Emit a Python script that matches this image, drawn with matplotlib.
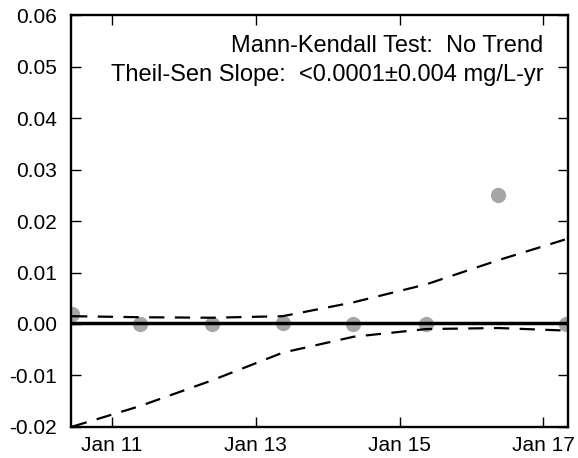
import matplotlib
matplotlib.use("Agg")
import matplotlib.pyplot as plt
import matplotlib.dates as mdates
import matplotlib.ticker as mticker
import numpy as np
import datetime as dt

plt.rcParams['font.family'] = ['Liberation Sans', 'DejaVu Sans']
plt.rcParams['axes.unicode_minus'] = False
plt.rcParams['lines.scale_dashes'] = False

# Data
sample_dates = ["2010-06-12", "2011-05-22", "2012-05-22", "2013-05-17",
                "2014-05-12", "2015-05-17", "2016-05-17", "2017-04-28"]
concentration = [0.0020, 0.0000, 0.0000, 0.0002, 0.0000, 0.0000, 0.0250, 0.0000]
trend_value = [0.0001, 0.0001]
upper_band = [0.0015, 0.0013, 0.0012, 0.0015, 0.0042, 0.0077, 0.0124, 0.0165]
lower_band = [-0.0200, -0.0160, -0.0110, -0.0056, -0.0025, -0.0010, -0.0008, -0.0013]
xlim_dates = ["2010-06-05", "2017-05-06"]
xtick_dates = ["2011-01-01", "2013-01-01", "2015-01-01", "2017-01-01"]
ylim = (-0.02, 0.06)
yticks = [-0.02, -0.01, 0.00, 0.01, 0.02, 0.03, 0.04, 0.05, 0.06]
annot_lines = ["Mann-Kendall Test:  No Trend",
               "Theil-Sen Slope:  <0.0001\u00b10.004 mg/L-yr"]

dates = [dt.datetime.strptime(d, "%Y-%m-%d") for d in sample_dates]
xl = [dt.datetime.strptime(d, "%Y-%m-%d") for d in xlim_dates]
xt = [dt.datetime.strptime(d, "%Y-%m-%d") for d in xtick_dates]

fig = plt.figure(figsize=(5.78, 4.58), dpi=100)
ax = fig.add_axes([0.1223, 0.0683, 0.9827 - 0.1223, 0.9662 - 0.0683])

ax.plot(dates, concentration, 'o', color='#a6a6a6', markersize=11,
        markeredgewidth=0, zorder=2)
ax.plot(xl, trend_value, '-', color='black', linewidth=2.5, zorder=3)
ax.plot(dates, upper_band, color='black', linewidth=1.6, dashes=(11, 7.5), zorder=3)
ax.plot(dates, lower_band, color='black', linewidth=1.6, dashes=(11, 7.5), zorder=3)

ax.set_xlim(xl)
ax.set_ylim(*ylim)
ax.set_yticks(yticks)
ax.yaxis.set_major_formatter(mticker.FormatStrFormatter('%.2f'))
ax.set_xticks(xt)
ax.xaxis.set_major_formatter(mdates.DateFormatter('%b %y'))

for s in ax.spines.values():
    s.set_linewidth(1.7)
ax.tick_params(direction='in', length=7, width=1, labelsize=15,
               top=True, right=True)
ax.tick_params(axis='y', pad=10)
ax.tick_params(axis='x', pad=7)

ax.text(0.95, 0.927, annot_lines[0], transform=ax.transAxes, ha='right',
        va='center', fontsize=17)
ax.text(0.95, 0.856, annot_lines[1], transform=ax.transAxes, ha='right',
        va='center', fontsize=17)

fig.savefig("out.png", dpi=100)
